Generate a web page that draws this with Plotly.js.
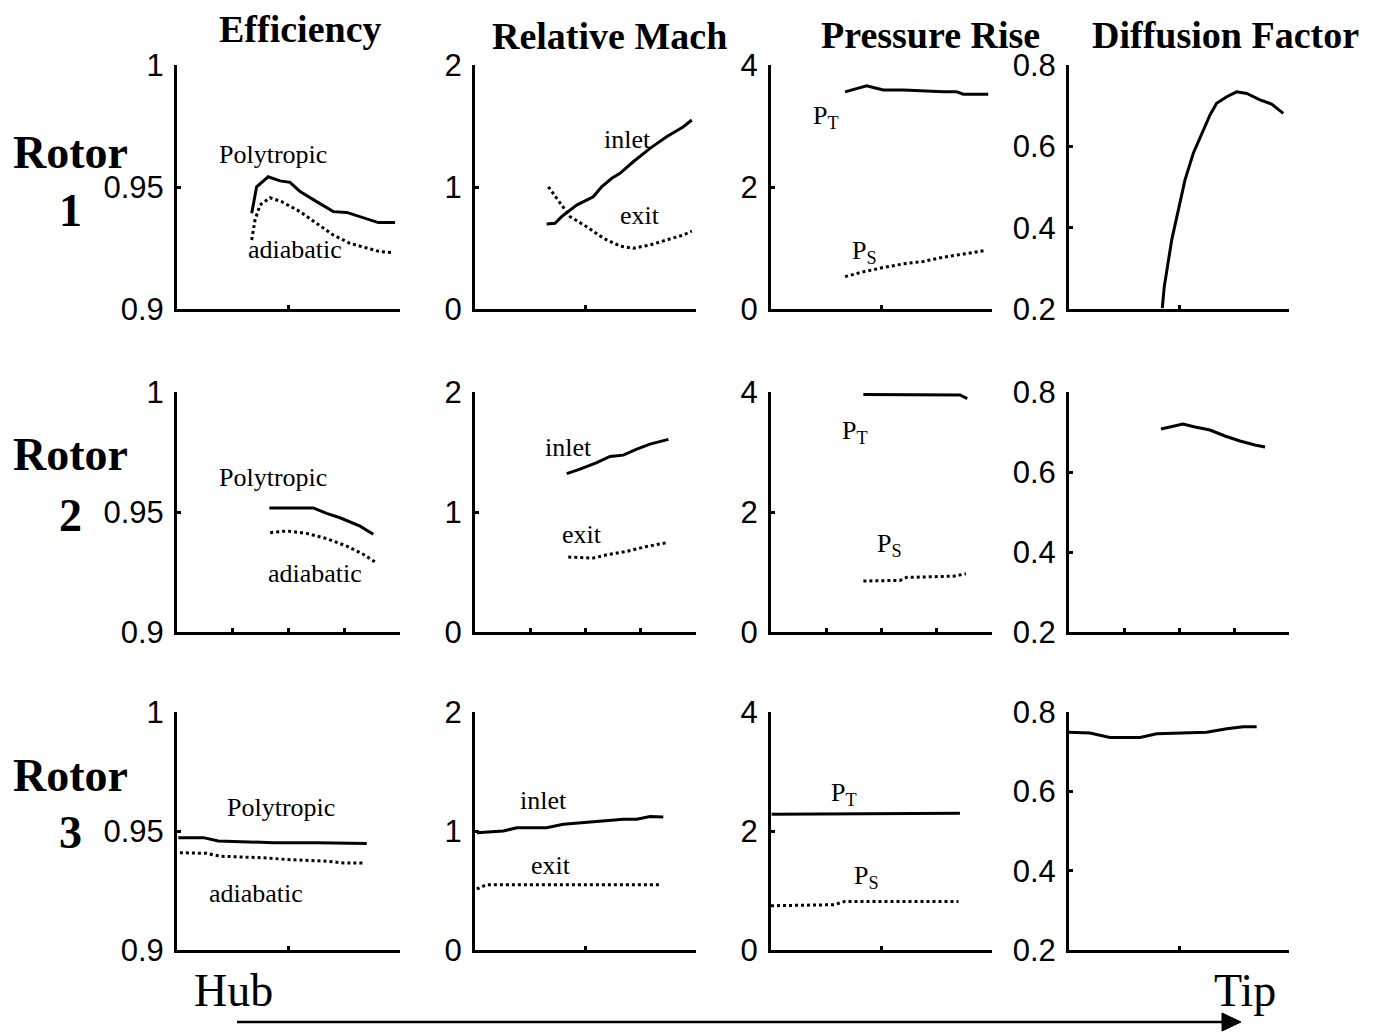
<!DOCTYPE html>
<html>
<head>
<meta charset="utf-8">
<script src="https://cdn.plot.ly/plotly-3.0.1.min.js"></script>
<style>html,body{margin:0;padding:0;background:#fff;}#chart{width:1380px;height:1036px;}</style>
</head>
<body>
<div id="chart"></div>
<script>
// ---------- data (x = fraction of span, hub = 0 -> tip = 1) ----------
const columnTitles = ['Efficiency', 'Relative Mach', 'Pressure Rise', 'Diffusion Factor'];
const rowNames = ['1', '2', '3'];
const effTicks = [0.9, 0.95, 1];
const effTickText = ['0.9', '0.95', '1'];
const machTicks = [0, 1, 2];
const machTickText = ['0', '1', '2'];
const presTicks = [0, 2, 4];
const presTickText = ['0', '2', '4'];
const dfTicks = [0.2, 0.4, 0.6, 0.8];
const dfTickText = ['0.2', '0.4', '0.6', '0.8'];

// Rotor 1
const r1PolyX = [0.335,0.357,0.409,0.462,0.507,0.552,0.626,0.701,0.761,0.835,0.903,0.978];
const r1PolyY = [0.9392,0.9501,0.9542,0.9525,0.9519,0.9481,0.9440,0.9399,0.9396,0.9374,0.9354,0.9354];
const r1AdiaX = [0.335,0.350,0.372,0.417,0.469,0.552,0.626,0.701,0.776,0.851,0.910,0.967];
const r1AdiaY = [0.9283,0.9365,0.9426,0.9456,0.9440,0.9399,0.9351,0.9303,0.9269,0.9249,0.9235,0.9231];
const r1InletX = [0.324,0.362,0.392,0.460,0.535,0.573,0.619,0.656,0.716,0.792,0.867,0.943,0.981];
const r1InletY = [0.697,0.702,0.757,0.852,0.920,1.002,1.071,1.112,1.207,1.317,1.412,1.494,1.549];
const r1ExitX = [0.332,0.385,0.430,0.505,0.581,0.656,0.716,0.792,0.867,0.943,0.981];
const r1ExitY = [1.002,0.866,0.757,0.675,0.580,0.516,0.498,0.525,0.566,0.607,0.639];
const r1PtX = [0.335,0.388,0.433,0.463,0.508,0.599,0.690,0.780,0.840,0.870,0.983];
const r1PtY = [3.56,3.62,3.66,3.63,3.59,3.59,3.57,3.56,3.56,3.52,3.52];
const r1PsX = [0.335,0.418,0.508,0.599,0.690,0.780,0.870,0.968];
const r1PsY = [0.53,0.61,0.68,0.74,0.78,0.85,0.90,0.96];
const r1DfX = [0.424,0.433,0.467,0.497,0.527,0.565,0.595,0.641,0.671,0.717,0.762,0.808,0.868,0.921,0.974];
const r1DfY = [0.202,0.255,0.370,0.443,0.517,0.583,0.620,0.677,0.706,0.722,0.734,0.730,0.714,0.704,0.681];

// Rotor 2
const r2PolyX = [0.414,0.611,0.671,0.731,0.821,0.880];
const r2PolyY = [0.9517,0.9517,0.9494,0.9476,0.9441,0.9407];
const r2AdiaX = [0.418,0.492,0.581,0.671,0.761,0.835,0.888];
const r2AdiaY = [0.9414,0.9421,0.9411,0.9389,0.9358,0.9324,0.9292];
const r2InletX = [0.415,0.475,0.551,0.611,0.671,0.732,0.792,0.875];
const r2InletY = [1.320,1.357,1.412,1.463,1.474,1.524,1.566,1.605];
const r2ExitX = [0.422,0.535,0.596,0.686,0.777,0.875];
const r2ExitY = [0.624,0.616,0.643,0.671,0.713,0.747];
const r2PtX = [0.418,0.644,0.855,0.888];
const r2PtY = [3.96,3.96,3.95,3.89];
const r2PsX = [0.418,0.584,0.614,0.719,0.825,0.882];
const r2PsY = [0.85,0.86,0.91,0.92,0.93,0.97];
const r2DfX = [0.418,0.459,0.518,0.573,0.641,0.709,0.777,0.845,0.891];
const r2DfY = [0.7075,0.7125,0.720,0.7125,0.705,0.690,0.6775,0.6675,0.6625];

// Rotor 3
const r3PolyX = [0.006,0.118,0.185,0.327,0.432,0.626,0.851];
const r3PolyY = [0.9472,0.9472,0.9458,0.9455,0.9451,0.9451,0.9448];
const r3AdiaX = [0.013,0.133,0.193,0.402,0.492,0.671,0.746,0.843];
const r3AdiaY = [0.9409,0.9406,0.9394,0.9387,0.9380,0.9373,0.9366,0.9366];
const r3InletX = [0.008,0.128,0.189,0.324,0.400,0.505,0.596,0.671,0.732,0.792,0.852];
const r3InletY = [0.986,1.000,1.028,1.028,1.056,1.070,1.084,1.098,1.098,1.121,1.118];
const r3ExitX = [0.008,0.053,0.354,0.837];
const r3ExitY = [0.513,0.549,0.549,0.549];
const r3PtX = [0.003,0.855];
const r3PtY = [2.28,2.30];
const r3PsX = [0,0.286,0.335,0.569,0.848];
const r3PsY = [0.744,0.761,0.817,0.817,0.817];
const r3DfX = [0,0.095,0.186,0.323,0.399,0.505,0.626,0.717,0.792,0.853];
const r3DfY = [0.749,0.747,0.736,0.736,0.745,0.747,0.749,0.758,0.763,0.763];

// ---------- layout geometry ----------
const W = 1380, H = 1036;
const colPx = [[177,400],[475,696],[771,992],[1069,1289]];
const rowPx = [[65,309],[392,632],[712,950]];
const px = x => x / W;
const py = y => 1 - y / H;

const SERIF = 'Liberation Serif, Times New Roman, serif';
const SANS = 'Liberation Sans, Arial, sans-serif';

const solid = {color:'#000', width:3};
const dotted = {color:'#000', width:3, dash:'3px,3px'};

const data = [];
function addLine(row, col, xv, yv, line) {
  const n = row*4 + col + 1;
  data.push({x: xv, y: yv, type:'scatter', mode:'lines', line: line,
             xaxis: 'x' + n, yaxis: 'y' + n, hoverinfo:'skip', showlegend:false});
}
// row 1
addLine(0,0,r1PolyX,r1PolyY,solid); addLine(0,0,r1AdiaX,r1AdiaY,dotted);
addLine(0,1,r1InletX,r1InletY,solid); addLine(0,1,r1ExitX,r1ExitY,dotted);
addLine(0,2,r1PtX,r1PtY,solid); addLine(0,2,r1PsX,r1PsY,dotted);
addLine(0,3,r1DfX,r1DfY,solid);
// row 2
addLine(1,0,r2PolyX,r2PolyY,solid); addLine(1,0,r2AdiaX,r2AdiaY,dotted);
addLine(1,1,r2InletX,r2InletY,solid); addLine(1,1,r2ExitX,r2ExitY,dotted);
addLine(1,2,r2PtX,r2PtY,solid); addLine(1,2,r2PsX,r2PsY,dotted);
addLine(1,3,r2DfX,r2DfY,solid);
// row 3
addLine(2,0,r3PolyX,r3PolyY,solid); addLine(2,0,r3AdiaX,r3AdiaY,dotted);
addLine(2,1,r3InletX,r3InletY,solid); addLine(2,1,r3ExitX,r3ExitY,dotted);
addLine(2,2,r3PtX,r3PtY,solid); addLine(2,2,r3PsX,r3PsY,dotted);
addLine(2,3,r3DfX,r3DfY,solid);

const layout = {
  width: W, height: H,
  margin: {l:0, r:0, t:0, b:0},
  paper_bgcolor:'#fff', plot_bgcolor:'#fff',
  showlegend:false,
  annotations: [], shapes: []
};

const yCfg = [
  {range:[0.9,1], tickvals: effTicks, ticktext: effTickText},
  {range:[0,2], tickvals: machTicks, ticktext: machTickText},
  {range:[0,4], tickvals: presTicks, ticktext: presTickText},
  {range:[0.2,0.8], tickvals: dfTicks, ticktext: dfTickText}
];
const xTickRows = [[0.5,1],[0.25,0.5,0.75],[0.5,1]];

for (let r = 0; r < 3; r++) {
  for (let c = 0; c < 4; c++) {
    const n = r*4 + c + 1;
    const xk = 'xaxis' + (n === 1 ? '' : n);
    const yk = 'yaxis' + (n === 1 ? '' : n);
    layout[xk] = {
      domain: [px(colPx[c][0]), px(colPx[c][1])],
      anchor: 'y' + n, range: [0,1],
      showgrid:false, zeroline:false, showline:true, linecolor:'#000', linewidth:3,
      ticks:'inside', ticklen:4, tickwidth:3, tickcolor:'#000',
      tickmode:'array', tickvals: xTickRows[r], showticklabels:false, fixedrange:true
    };
    layout[yk] = {
      domain: [py(rowPx[r][1]), py(rowPx[r][0])],
      anchor: 'x' + n, range: yCfg[c].range,
      showgrid:false, zeroline:false, showline:true, linecolor:'#000', linewidth:3,
      ticks:'inside', ticklen:4, tickwidth:3, tickcolor:'#000',
      tickmode:'array', tickvals: yCfg[c].tickvals, ticktext: yCfg[c].ticktext,
      tickfont: {family: SANS, size: 31, color:'#000'}, ticklabelstandoff: 4, fixedrange:true
    };
  }
}

// column titles
const titleCenters = [[300,29],[609,36],[930,35],[1225,35]];
columnTitles.forEach((t,i) => {
  layout.annotations.push({text: t, xref:'paper', yref:'paper', x: px(titleCenters[i][0]), y: py(titleCenters[i][1]),
    xanchor:'center', yanchor:'middle', showarrow:false,
    font:{family: SERIF, size: 38, color:'#000', weight:'bold'}});
});
// row labels
const rotorY = [[153,210],[454,515],[775,832]];
rowNames.forEach((nm,i) => {
  layout.annotations.push({text:'Rotor', xref:'paper', yref:'paper', x: px(70), y: py(rotorY[i][0]),
    xanchor:'center', yanchor:'middle', showarrow:false, font:{family:SERIF, size:46, color:'#000', weight:'bold'}});
  layout.annotations.push({text:nm, xref:'paper', yref:'paper', x: px(70), y: py(rotorY[i][1]),
    xanchor:'center', yanchor:'middle', showarrow:false, font:{family:SERIF, size:46, color:'#000', weight:'bold'}});
});
// in-plot labels (data coordinates)
const inLabels = [
  [1,'Polytropic',0.43,0.9635],[1,'adiabatic',0.53,0.9242],
  [2,'inlet',0.688,1.393],[2,'exit',0.747,0.770],
  [3,'P<sub>T</sub>',0.249,3.15],[3,'P<sub>S</sub>',0.425,0.934],
  [5,'Polytropic',0.43,0.9643],[5,'adiabatic',0.619,0.9245],
  [6,'inlet',0.421,1.541],[6,'exit',0.484,0.811],
  [7,'P<sub>T</sub>',0.380,3.33],[7,'P<sub>S</sub>',0.534,1.445],
  [9,'Polytropic',0.466,0.960],[9,'adiabatic',0.354,0.9237],
  [10,'inlet',0.308,1.259],[10,'exit',0.344,0.710],
  [11,'P<sub>T</sub>',0.330,2.62],[11,'P<sub>S</sub>',0.430,1.234]
];
inLabels.forEach(l => {
  layout.annotations.push({text:l[1], xref:'x'+l[0], yref:'y'+l[0], x:l[2], y:l[3],
    xanchor:'center', yanchor:'middle', showarrow:false, font:{family:SERIF, size:26, color:'#000'}});
});
// Hub / Tip
layout.annotations.push({text:'Hub', xref:'paper', yref:'paper', x:px(233), y:py(990), xanchor:'center', yanchor:'middle',
  showarrow:false, font:{family:SERIF, size:46, color:'#000'}});
layout.annotations.push({text:'Tip', xref:'paper', yref:'paper', x:px(1245), y:py(990), xanchor:'center', yanchor:'middle',
  showarrow:false, font:{family:SERIF, size:46, color:'#000'}});
// arrow
layout.shapes.push({type:'line', xref:'paper', yref:'paper', x0:px(237), x1:px(1228), y0:py(1022), y1:py(1022),
  line:{color:'#000', width:2.5}});
layout.shapes.push({type:'path', xref:'paper', yref:'paper',
  path:`M ${px(1222)} ${py(1013)} L ${px(1241)} ${py(1022)} L ${px(1222)} ${py(1031)} Z`,
  fillcolor:'#000', line:{color:'#000', width:1}});

Plotly.newPlot('chart', data, layout, {staticPlot:true, displayModeBar:false});
</script>
</body>
</html>
